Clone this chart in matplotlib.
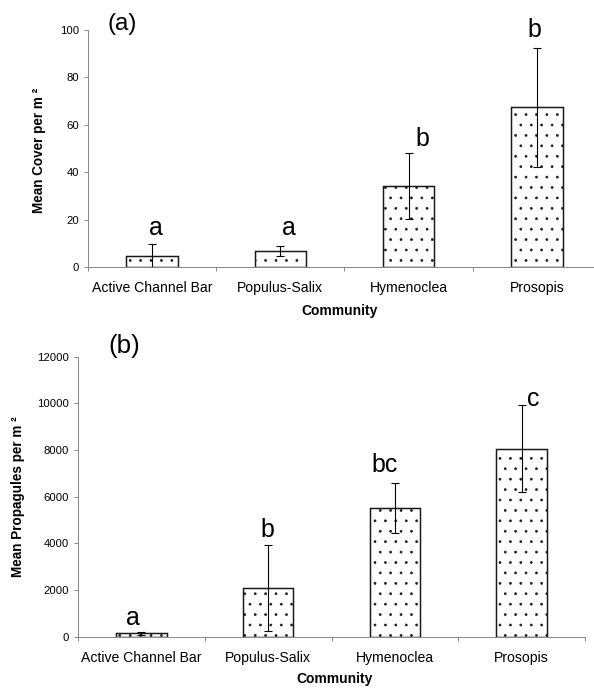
#!/usr/bin/env python3
"""Two-panel bar chart: mean cover and mean propagules per community."""

import matplotlib
matplotlib.use("Agg")
import matplotlib.pyplot as plt
import numpy as np

communities = ["Active Channel Bar", "Populus-Salix", "Hymenoclea", "Prosopis"]

cover_mean = [4.6, 6.8, 34.2, 67.3]
cover_err = [5.0, 2.2, 14.1, 25.0]
cover_letters = ["a", "a", "b", "b"]

prop_mean = [140, 2080, 5530, 8050]
prop_err = [80, 1840, 1070, 1860]
prop_letters = ["a", "b", "bc", "c"]

DPI = 125
PX = 72.0 / DPI  # points per pixel

plt.rcParams["font.family"] = ["Liberation Sans", "DejaVu Sans"]
plt.rcParams["hatch.linewidth"] = 0.35

AXIS_GRAY = "#8a8a8a"


def style_axes(ax, ymax, ystep):
    for side in ("top", "right"):
        ax.spines[side].set_visible(False)
    for side in ("left", "bottom"):
        ax.spines[side].set_color(AXIS_GRAY)
        ax.spines[side].set_linewidth(1.0 * PX)
    ax.set_xlim(-0.5, len(communities) - 0.5)
    ax.set_ylim(0, ymax)
    ax.set_yticks(np.arange(0, ymax + 1, ystep))
    ax.set_xticks(range(len(communities)))
    ax.set_xticklabels(communities, fontsize=8.1)
    ax.set_xticks(np.arange(-0.5, len(communities), 1.0), minor=True)
    ax.tick_params(axis="x", which="major", length=0, pad=8)
    ax.tick_params(axis="x", which="minor", length=3 * PX * 1.2, width=1.0 * PX,
                   color=AXIS_GRAY, direction="out")
    ax.tick_params(axis="y", length=3 * PX * 1.2, width=1.0 * PX, color=AXIS_GRAY,
                   labelsize=6.5, pad=3)


def plot_panel(ax, means, errs, letters, dx_px, dy_px):
    x = np.arange(len(means))
    ax.bar(x, means, width=0.4, color="white", edgecolor="#1a1a1a",
           linewidth=1.5 * PX, hatch="..", zorder=2)
    ax.errorbar(x, means, yerr=errs, fmt="none", ecolor="black",
                elinewidth=1.1 * PX, capsize=2.2, capthick=1.1 * PX, zorder=3)
    for xi, m, e, lab, dx, dy in zip(x, means, errs, letters, dx_px, dy_px):
        ax.annotate(lab, (xi, m + e), xytext=(dx * PX, dy * PX),
                    textcoords="offset points", ha="center", va="baseline",
                    fontsize=14.4, annotation_clip=False)


fig = plt.figure(figsize=(594 / DPI, 689 / DPI), dpi=DPI)
W, H = 594.0, 689.0

ax_a = fig.add_axes([88 / W, 1 - 267 / H, 513 / W, 237 / H])
style_axes(ax_a, 100, 20)
plot_panel(ax_a, cover_mean, cover_err, cover_letters,
           dx_px=[4, 8.5, 14, -2.5], dy_px=[9, 11, 7, 11])
ax_a.set_ylabel("Mean Cover per m \u00b2", fontsize=7.8, fontweight="bold")
ax_a.yaxis.set_label_coords(-0.082, 0.49)
ax_a.set_xlabel("Community", fontsize=8, fontweight="bold")
ax_a.xaxis.set_label_coords((340 - 88) / 513, -(311 - 267) / 237)
fig.text(122 / W, 1 - 24 / H, "(a)", fontsize=14, ha="center", va="center")

ax_b = fig.add_axes([78 / W, 1 - 636.7 / H, 507 / W, 280 / H])
style_axes(ax_b, 12000, 2000)
plot_panel(ax_b, prop_mean, prop_err, prop_letters,
           dx_px=[-8, -1, -10, 12], dy_px=[6.6, 8.5, 11, -0.5])
ax_b.set_ylabel("Mean Propagules per m \u00b2", fontsize=7.8, fontweight="bold")
ax_b.yaxis.set_label_coords(-0.1045, 0.5)
ax_b.set_xlabel("Community", fontsize=8, fontweight="bold")
ax_b.xaxis.set_label_coords((335 - 78) / 507, -(679 - 636.7) / 280)
fig.text(124 / W, 1 - 346 / H, "(b)", fontsize=15, ha="center", va="center")

for ax in (ax_a, ax_b):
    ax.xaxis.label.set_va("center")

fig.savefig("out.png", dpi=DPI)
